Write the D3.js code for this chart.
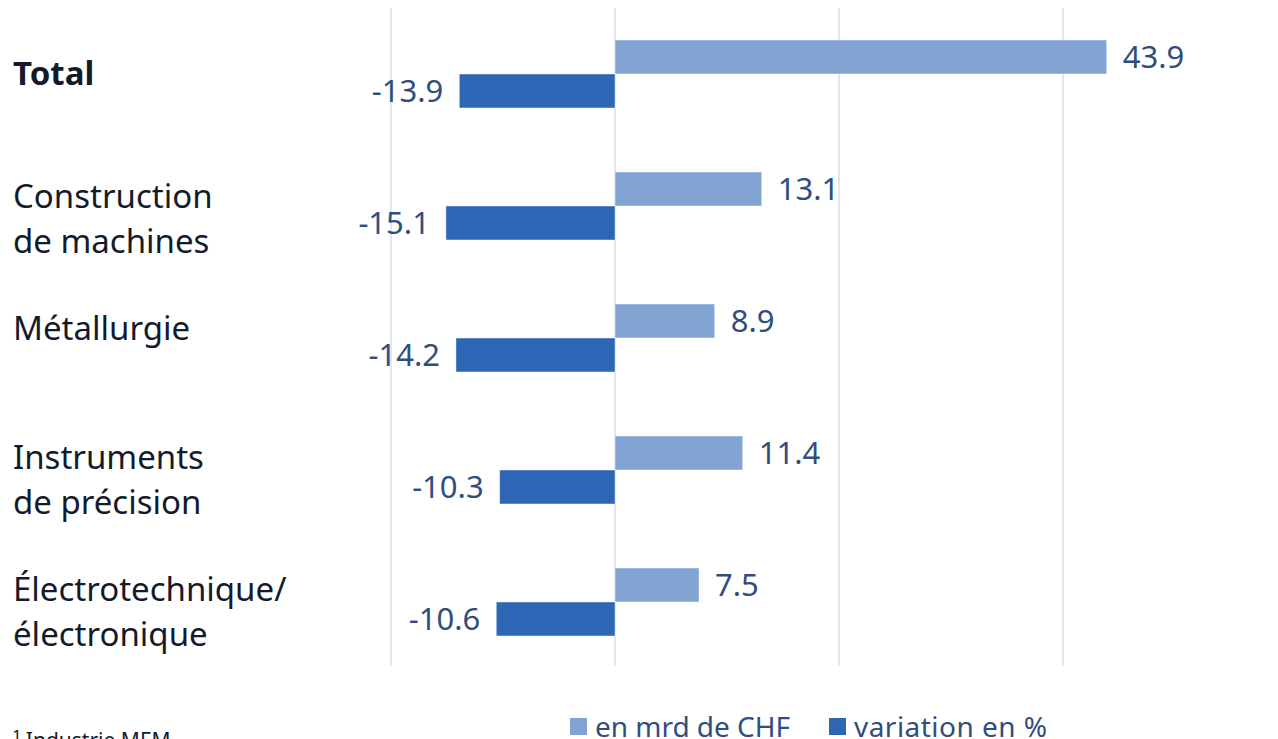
<!DOCTYPE html>
<html>
<head>
<meta charset="utf-8">
<script src="https://cdn.jsdelivr.net/npm/d3@7"></script>
<style>
  html, body { margin: 0; padding: 0; background: #fff; }
  svg { display: block; }
</style>
</head>
<body>
<svg id="chart" width="1278" height="739"></svg>
<script>
// ---- data ----
const categories = ["Total", "Construction de machines", "Métallurgie", "Instruments de précision", "Électrotechnique/ électronique"];
const categoryLines = [["Total"], ["Construction", "de machines"], ["Métallurgie"], ["Instruments", "de précision"], ["Électrotechnique/", "électronique"]];
const valuesCHF = [43.9, 13.1, 8.9, 11.4, 7.5];
const valuesPct = [-13.9, -15.1, -14.2, -10.3, -10.6];
const seriesNames = ["en mrd de CHF", "variation en %"];
const xTicks = [-20, 0, 20, 40];
const footnote = "¹ Industrie MEM";

// ---- layout / style ----
const W = 1278, H = 739;
const colors = ["#81a4d2", "#2c66b4"];
const labelColor = "#2f4e7e";
const textColor = "#131b2b";
const gridColor = "#d5dff0";
const fontFamily = "'Noto Sans', 'Open Sans', sans-serif";

const svg = d3.select("#chart");

const x = d3.scaleLinear().domain([-20, 40]).range([391, 1063]);
const y = d3.scaleBand().domain(categories).range([8, 668]).paddingInner(0.485).paddingOuter(0.2425);
const sub = d3.scaleBand().domain(seriesNames).range([0, y.bandwidth()]);

// gridlines
svg.append("g").selectAll("line").data(xTicks).join("line")
  .attr("x1", d => x(d)).attr("x2", d => x(d))
  .attr("y1", 8).attr("y2", 666)
  .attr("stroke", gridColor).attr("stroke-width", 1.5);

const rows = categories.map((c, i) => ({ c, i, vals: [valuesCHF[i], valuesPct[i]] }));

const g = svg.append("g");
rows.forEach(r => {
  r.vals.forEach((v, k) => {
    const y0 = y(r.c) + sub(seriesNames[k]);
    g.append("rect")
      .attr("x", Math.min(x(0), x(v)))
      .attr("y", y0)
      .attr("width", Math.abs(x(v) - x(0)))
      .attr("height", sub.bandwidth())
      .attr("fill", colors[k])
      .attr("stroke", "rgba(255,255,255,0.45)")
      .attr("stroke-width", 1);
    g.append("text")
      .attr("x", v >= 0 ? x(v) + 16 : x(v) - 16)
      .attr("y", y0 + sub.bandwidth() / 2)
      .attr("dy", "0.36em")
      .attr("text-anchor", v >= 0 ? "start" : "end")
      .attr("font-family", fontFamily)
      .attr("font-size", 31)
      .attr("fill", labelColor)
      .text(d3.format(".1f")(v).replace("−", "-"));
  });
});

// category labels
rows.forEach(r => {
  const cy = y(r.c) + y.bandwidth() / 2;
  const lines = categoryLines[r.i];
  const first = r.i === 0 ? cy + 11 : cy + (lines.length > 1 && r.i > 2 ? -1 : 2);
  const t = svg.append("text")
    .attr("x", 13)
    .attr("font-family", fontFamily)
    .attr("font-size", 33)
    .attr("font-weight", r.i === 0 ? 700 : 400)
    .attr("fill", textColor);
  lines.forEach((l, j) => {
    t.append("tspan").attr("x", 13).attr("y", first + j * 44.5).text(l);
  });
});

// legend
const legendX = [570, 829];
seriesNames.forEach((s, k) => {
  svg.append("rect")
    .attr("x", legendX[k]).attr("y", 718)
    .attr("width", 17).attr("height", 17)
    .attr("fill", colors[k]);
  svg.append("text")
    .attr("x", legendX[k] + 25).attr("y", 737)
    .attr("font-family", fontFamily)
    .attr("font-size", 28)
    .attr("textLength", k === 0 ? 195 : 193)
    .attr("fill", labelColor)
    .text(s);
});

// footnote (cut at bottom edge, as in the reference)
svg.append("text")
  .attr("x", 13).attr("y", 748)
  .attr("font-family", fontFamily)
  .attr("font-size", 21)
  .attr("fill", textColor)
  .text(footnote);
</script>
</body>
</html>
